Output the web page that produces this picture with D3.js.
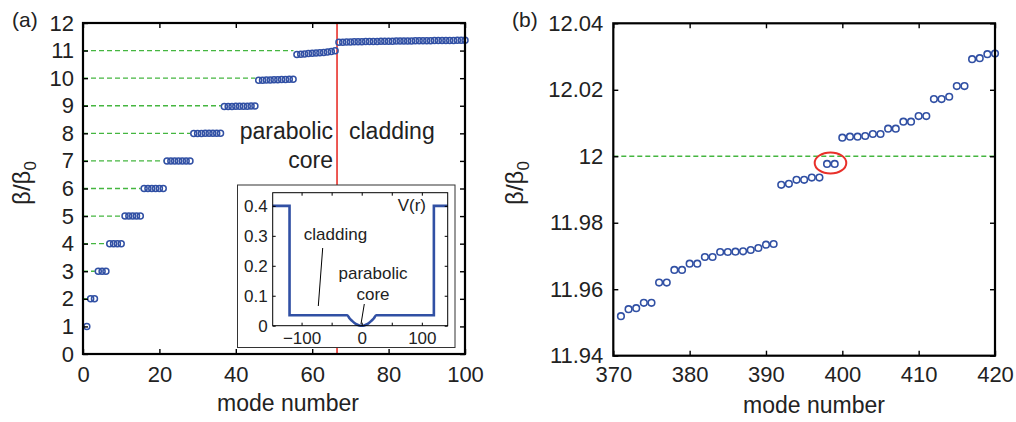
<!DOCTYPE html>
<html>
<head>
<meta charset="utf-8">
<script src="https://cdn.jsdelivr.net/npm/d3@7"></script>
<style>
  body { margin: 0; background: #fff; }
  svg { display: block; font-family: "Liberation Sans", Arial, Helvetica, sans-serif; }
  .tick line { stroke: #000; stroke-width: 1.4; }
  .tick text { fill: #222; }
</style>
</head>
<body>
<script>
// panel (a): mode number vs beta/beta0
const modeA = d3.range(1, 101);
const betaA = [
  1.00,
  2.00, 2.00,
  3.00, 3.00, 3.00,
  4.00, 4.00, 4.00, 4.00,
  5.00, 5.00, 5.00, 5.00, 5.00,
  6.00, 6.00, 6.00, 6.00, 6.00, 6.00,
  7.00, 7.00, 7.00, 7.00, 7.00, 7.00, 7.00,
  7.99, 7.99, 7.99, 8.00, 8.00, 8.00, 8.00, 8.00,
  8.97, 8.97, 8.975, 8.98, 8.98, 8.985, 8.985, 8.99, 8.99,
  9.92, 9.925, 9.93, 9.935, 9.94, 9.945, 9.95, 9.955, 9.96, 9.965,
  10.86, 10.87, 10.88, 10.89, 10.90, 10.91, 10.92, 10.93, 10.95, 10.97, 10.99,
  11.300, 11.306, 11.310, 11.314, 11.317, 11.320, 11.323, 11.326, 11.329, 11.331,
  11.333, 11.335, 11.337, 11.339, 11.341, 11.343, 11.345, 11.347, 11.349, 11.351,
  11.353, 11.355, 11.357, 11.359, 11.361, 11.363, 11.364, 11.366, 11.367, 11.369,
  11.370, 11.372, 11.373, 11.375
];
const levelsA = [2, 3, 4, 5, 6, 7, 8, 9, 10, 11];
const coreEdgeA = 66.5;
const xTicksA = [0, 20, 40, 60, 80, 100];
const yTicksA = d3.range(0, 13);

// inset: potential V(r)
const rIn = [-148, -120, -120, -24, -20, -16, -12, -8, -4, 0, 4, 8, 12, 16, 20, 24, 120, 120, 143];
const vIn = [0.4, 0.4, 0.035, 0.035, 0.024, 0.016, 0.009, 0.004, 0.001, 0, 0.001, 0.004, 0.009, 0.016, 0.024, 0.035, 0.035, 0.4, 0.4];
const xTicksIn = [-100, -50, 0, 50, 100];
const xLabelsIn = [-100, 0, 100];
const yTicksIn = [0, 0.1, 0.2, 0.3, 0.4];

// panel (b): zoom near beta/beta0 = 12
const modeB = d3.range(371, 421);
const betaB = [
  11.9519, 11.9540, 11.9543, 11.9559, 11.9559,
  11.9620, 11.9620, 11.9658, 11.9658, 11.9677,
  11.9677, 11.9697, 11.9697, 11.9712, 11.9712,
  11.9713, 11.9714, 11.9718, 11.9724, 11.9734, 11.9736,
  11.9914, 11.9917, 11.9929, 11.9929, 11.9936, 11.9936,
  11.9977, 11.9977,
  12.0056, 12.0059, 12.0059, 12.0061, 12.0067, 12.0067, 12.0083, 12.0083,
  12.0104, 12.0104, 12.0121, 12.0121, 12.0172, 12.0172, 12.0179, 12.0211,
  12.0211, 12.0292, 12.0295, 12.0307, 12.0309
];
const levelB = 12;
const markB = { mode: 398.45, beta: 11.998, rx: 2.07, ry: 0.00316 };
const xTicksB = [370, 380, 390, 400, 410, 420];
const yTicksB = [11.94, 11.96, 11.98, 12, 12.02, 12.04];

const blue = "#3150a4", green = "#45b640", red = "#e8302a";

const svg = d3.select("body").append("svg")
    .attr("width", 1016)
    .attr("height", 422);

function frame(g, x, y, xt, yt, opt) {
    const [x0, x1] = x.range(), [y0, y1] = y.range();
    const ts = opt.tick;
    g.append("g").attr("transform", `translate(0,${y0})`)
        .call(d3.axisBottom(x).tickValues(xt).tickSizeInner(-ts).tickSizeOuter(0).tickPadding(opt.xpad)
            .tickFormat(d => (opt.xlab ? (opt.xlab.includes(d) ? String(d).replace("-", "\u2212") : "") : d)))
        .attr("font-size", opt.fs).attr("font-family", null);
    g.append("g").attr("transform", `translate(0,${y1})`)
        .call(d3.axisTop(x).tickValues(xt).tickSizeInner(-ts).tickSizeOuter(0).tickFormat(""));
    g.append("g").attr("transform", `translate(${x0},0)`)
        .call(d3.axisLeft(y).tickValues(yt).tickSizeInner(-ts).tickSizeOuter(0).tickPadding(opt.ypad)
            .tickFormat(d => String(d)))
        .attr("font-size", opt.fs).attr("font-family", null);
    g.append("g").attr("transform", `translate(${x1},0)`)
        .call(d3.axisRight(y).tickValues(yt).tickSizeInner(-ts).tickSizeOuter(0).tickFormat(""));
    g.selectAll(".domain").remove();
    g.selectAll(".tick line").style("stroke-width", opt.tw);
    g.append("rect")
        .attr("x", x0).attr("y", y1)
        .attr("width", x1 - x0).attr("height", y0 - y1)
        .attr("fill", "none").attr("stroke", "#000").attr("stroke-width", opt.lw);
}

function ylabel(x, y) {
    const t = svg.append("text")
        .attr("transform", `translate(${x},${y}) rotate(-90)`)
        .attr("text-anchor", "middle")
        .attr("font-size", 24).attr("fill", "#222");
    t.append("tspan").text("\u03b2/\u03b2");
    t.append("tspan").attr("font-size", 17).attr("dy", 6).text("0");
}

// ---------- panel (a) ----------
const xA = d3.scaleLinear().domain([0, 100]).range([83, 465]);
const yA = d3.scaleLinear().domain([0, 12]).range([354, 23]);
const gA = svg.append("g");

gA.selectAll("line.lev").data(levelsA).enter().append("line")
    .attr("class", "lev")
    .attr("x1", xA(0))
    .attr("x2", d => xA(modeA[betaA.findIndex(b => Math.round(b) === d)] - 0.9))
    .attr("y1", d => yA(d)).attr("y2", d => yA(d))
    .attr("stroke", green).attr("stroke-width", 1.4).attr("stroke-dasharray", "5,3");

gA.append("line")
    .attr("x1", xA(coreEdgeA)).attr("x2", xA(coreEdgeA))
    .attr("y1", yA(12)).attr("y2", yA(0))
    .attr("stroke", red).attr("stroke-width", 1.6);

gA.selectAll("circle").data(modeA).enter().append("circle")
    .attr("cx", d => xA(d))
    .attr("cy", (d, i) => yA(betaA[i]))
    .attr("r", 3)
    .attr("fill", "none").attr("stroke", blue).attr("stroke-width", 1.5);

gA.append("text").attr("x", 333).attr("y", 139).attr("text-anchor", "end")
    .attr("font-size", 23).attr("fill", "#222").text("parabolic");
gA.append("text").attr("x", 333).attr("y", 168).attr("text-anchor", "end")
    .attr("font-size", 23).attr("fill", "#222").text("core");
gA.append("text").attr("x", 349).attr("y", 139)
    .attr("font-size", 23).attr("fill", "#222").text("cladding");

frame(gA, xA, yA, xTicksA, yTicksA, { tick: 5, xpad: 12, ypad: 9, fs: 22, lw: 2.2, tw: 1.4 });

// inset
const gI = svg.append("g");
gI.append("rect").attr("x", 237.5).attr("y", 185).attr("width", 217.5).attr("height", 162.5)
    .attr("fill", "#fff").attr("stroke", "#333").attr("stroke-width", 1);
const xI = d3.scaleLinear().domain([-148, 143]).range([272.7, 447.7]);
const yI = d3.scaleLinear().domain([0, 0.444]).range([325.7, 192.7]);
gI.append("path")
    .datum(rIn.map((r, i) => [r, vIn[i]]))
    .attr("d", d3.line().x(d => xI(d[0])).y(d => yI(d[1])).curve(d3.curveMonotoneX))
    .attr("fill", "none").attr("stroke", blue).attr("stroke-width", 2.6);
frame(gI, xI, yI, xTicksIn, yTicksIn, { tick: 3, xpad: 6, ypad: 5, fs: 17, lw: 1, tw: 1, xlab: xLabelsIn });
gI.append("text").attr("x", 426).attr("y", 211).attr("text-anchor", "end")
    .attr("font-size", 17).attr("fill", "#222").text("V(r)");
gI.append("text").attr("x", 335.5).attr("y", 240).attr("text-anchor", "middle")
    .attr("font-size", 17).attr("fill", "#222").text("cladding");
gI.append("line").attr("x1", 322.7).attr("y1", 248).attr("x2", 318.3).attr("y2", 306)
    .attr("stroke", "#000").attr("stroke-width", 1);
gI.append("text").attr("x", 373).attr("y", 279).attr("text-anchor", "middle")
    .attr("font-size", 17).attr("fill", "#222").text("parabolic");
gI.append("text").attr("x", 373).attr("y", 300).attr("text-anchor", "middle")
    .attr("font-size", 17).attr("fill", "#222").text("core");
gI.append("line").attr("x1", 364.3).attr("y1", 304).attr("x2", 361).attr("y2", 324)
    .attr("stroke", "#000").attr("stroke-width", 1);

svg.append("text").attr("x", 288).attr("y", 411).attr("text-anchor", "middle")
    .attr("font-size", 23).attr("fill", "#222").text("mode number");
ylabel(30, 183);
svg.append("text").attr("x", 12).attr("y", 27).attr("font-size", 21).attr("fill", "#222").text("(a)");

// ---------- panel (b) ----------
const xB = d3.scaleLinear().domain([370, 420]).range([613.3, 995]);
const yB = d3.scaleLinear().domain([11.94, 12.04]).range([355.7, 23.3]);
const gB = svg.append("g");

gB.append("line")
    .attr("x1", xB(370)).attr("x2", xB(420))
    .attr("y1", yB(levelB)).attr("y2", yB(levelB))
    .attr("stroke", green).attr("stroke-width", 1.4).attr("stroke-dasharray", "5,3");

gB.selectAll("circle").data(modeB).enter().append("circle")
    .attr("cx", d => xB(d))
    .attr("cy", (d, i) => yB(betaB[i]))
    .attr("r", 3.3)
    .attr("fill", "none").attr("stroke", blue).attr("stroke-width", 1.6);

gB.append("ellipse")
    .attr("cx", xB(markB.mode)).attr("cy", yB(markB.beta))
    .attr("rx", xB(markB.mode + markB.rx) - xB(markB.mode))
    .attr("ry", yB(markB.beta) - yB(markB.beta + markB.ry))
    .attr("fill", "none").attr("stroke", red).attr("stroke-width", 2);

frame(gB, xB, yB, xTicksB, yTicksB, { tick: 5, xpad: 11, ypad: 10, fs: 22, lw: 2.2, tw: 1.4 });

svg.append("text").attr("x", 814).attr("y", 413).attr("text-anchor", "middle")
    .attr("font-size", 23).attr("fill", "#222").text("mode number");
ylabel(523, 183);
svg.append("text").attr("x", 512).attr("y", 27).attr("font-size", 21).attr("fill", "#222").text("(b)");
</script>
</body>
</html>
